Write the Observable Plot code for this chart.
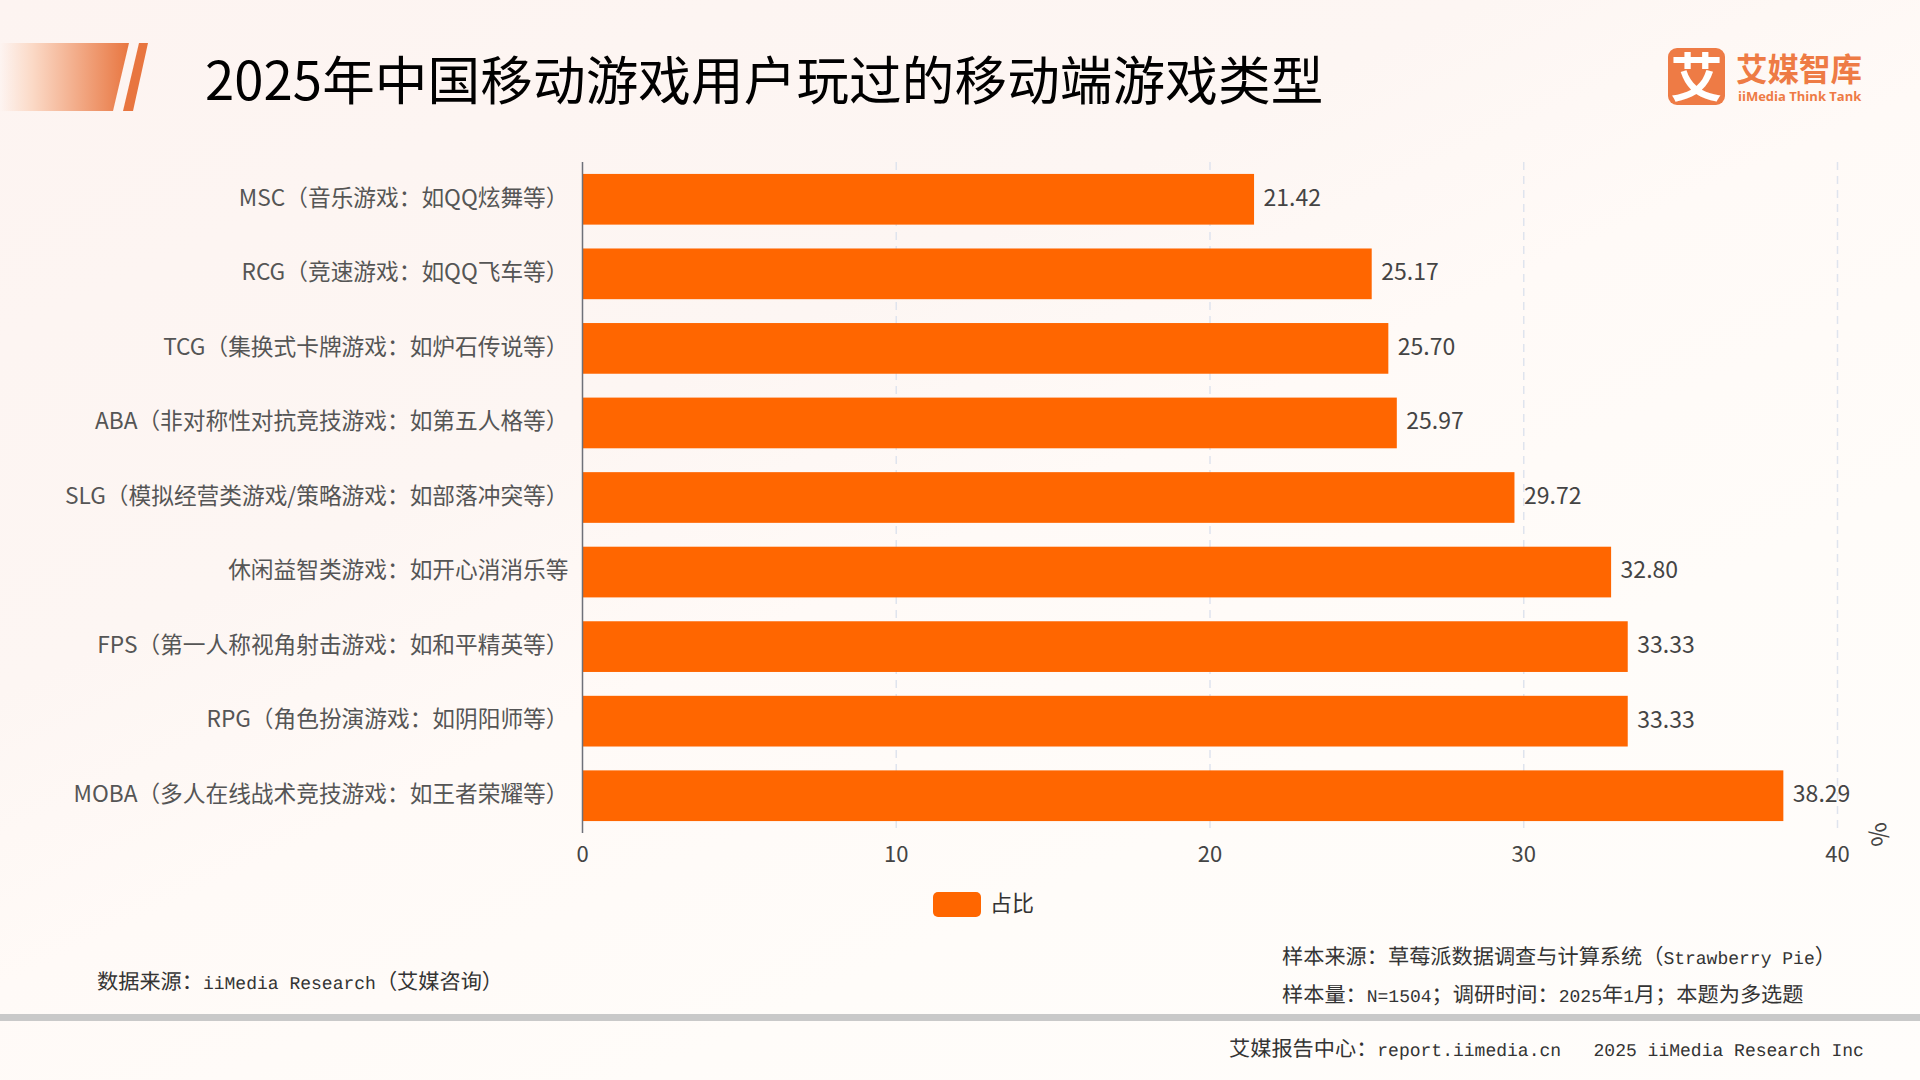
<!DOCTYPE html>
<html lang="zh-CN">
<head>
<meta charset="utf-8">
<title>2025年中国移动游戏用户玩过的移动端游戏类型</title>
<script src="https://cdn.jsdelivr.net/npm/d3@7"></script>
<script src="https://cdn.jsdelivr.net/npm/@observablehq/plot@0.6"></script>
<style>
@font-face { font-family: "HalfMono"; src: local("Liberation Mono"); size-adjust: 85%; unicode-range: U+20-7E; }
html, body { margin: 0; padding: 0; }
#page { position: relative; width: 1920px; height: 1080px; overflow: hidden;
  font-family: "Noto Sans CJK SC", "Noto Sans", sans-serif;
  background: linear-gradient(155deg, #fdf4f1 0%, #fdf6f3 35%, #fffaf7 50%, #fffcf9 70%, #fffdfb 100%); }
#page > * { position: absolute; }
.title { left: 205px; top: 39px; font-size: 52.6px; line-height: 76px; color: #000; white-space: nowrap; font-weight: 400; letter-spacing: .1px; }
.note { font-family: "HalfMono", "Noto Sans CJK SC", sans-serif; font-size: 21.2px; line-height: 30px; color: #333; white-space: pre; text-rendering: geometricPrecision; }
.band1 { left: 0; top: 43px; width: 130px; height: 68px; clip-path: polygon(0 0, 129px 0, 113px 100%, 0 100%);
  background: linear-gradient(90deg, rgba(232,117,63,0) 0%, #fbd9c6 25%, #e8753f 100%); }
.band2 { left: 120px; top: 43px; width: 30px; height: 68px; background: #e8753f; clip-path: polygon(19px 0, 28px 0, 13px 100%, 3px 100%); }
.logo { left: 1668px; top: 48px; width: 57px; height: 57px; border-radius: 9px; background: #ee7b45; color: #fff; font-size: 52px; line-height: 54px; font-weight: 700; text-align: center; }
.logo1 { left: 1736px; top: 46px; font-size: 31.5px; line-height: 42px; font-weight: 700; color: #ee7b45; white-space: nowrap; }
.logo2 { left: 1738px; top: 87px; font-family: "Open Sans", sans-serif; font-size: 13px; line-height: 18px; font-weight: 700; color: #ee7b45; white-space: nowrap; }
.rule { left: 0; top: 1014px; width: 1920px; height: 7px; background: #c9c9c9; }
.swatch { left: 933px; top: 892px; width: 48px; height: 25px; border-radius: 5px; background: #ff6600; }
.legend { left: 990px; top: 885px; font-size: 22px; line-height: 32px; color: #333; }
.pct { left: 1869px; top: 818px; font-size: 25px; line-height: 32px; color: #444; transform: rotate(75deg); }
</style>
</head>
<body>
<div id="page">
  <div class="band1"></div><div class="band2"></div>
  <div class="title">2025年中国移动游戏用户玩过的移动端游戏类型</div>
  <div class="logo">艾</div>
  <div class="logo1">艾媒智库</div>
  <div class="logo2">iiMedia Think Tank</div>
  <div class="swatch"></div><div class="legend">占比</div>
  <div class="pct">%</div>
  <div class="note" style="left:97px;top:970px">数据来源：iiMedia Research（艾媒咨询）</div>
  <div class="note" style="left:1282px;top:945px">样本来源：草莓派数据调查与计算系统（Strawberry Pie）</div>
  <div class="note" style="left:1282px;top:983px">样本量：N=1504；调研时间：2025年1月；本题为多选题</div>
  <div class="rule"></div>
  <div class="note" style="left:1229px;top:1037px">艾媒报告中心：report.iimedia.cn   2025 iiMedia Research Inc</div>
</div>
<script>
const categories = [
  "MSC（音乐游戏：如QQ炫舞等）",
  "RCG（竞速游戏：如QQ飞车等）",
  "TCG（集换式卡牌游戏：如炉石传说等）",
  "ABA（非对称性对抗竞技游戏：如第五人格等）",
  "SLG（模拟经营类游戏/策略游戏：如部落冲突等）",
  "休闲益智类游戏：如开心消消乐等",
  "FPS（第一人称视角射击游戏：如和平精英等）",
  "RPG（角色扮演游戏：如阴阳师等）",
  "MOBA（多人在线战术竞技游戏：如王者荣耀等）"
];
const values = [21.42, 25.17, 25.70, 25.97, 29.72, 32.80, 33.33, 33.33, 38.29];
const xTicks = [0, 10, 20, 30, 40];
const rows = categories.map((name, i) => ({name, value: values[i]}));

const chart = Plot.plot({
  width: 1920,
  height: 750,
  marginLeft: 582,
  marginRight: 83,
  marginTop: 32,
  marginBottom: 47,
  style: {fontFamily: '"Noto Sans CJK SC", "Noto Sans", sans-serif', fontSize: "22px", background: "transparent", overflow: "visible"},
  x: {domain: [0, 40]},
  y: {domain: categories, paddingInner: 0.32, paddingOuter: 0.16, round: false},
  marks: [
    Plot.ruleX(xTicks.slice(1), {stroke: "#dfe4ee", strokeWidth: 1.5, strokeDasharray: "8,6"}),
    Plot.barX(rows, {y: "name", x: "value", fill: "#ff6600"}),
    Plot.ruleX([0], {stroke: "#6e7079", strokeWidth: 1.5}),
    Plot.text(rows, {y: "name", x: "value", text: d => d.value.toFixed(2), textAnchor: "start", dx: 9, dy: -1.5, fill: "#444", fontSize: 23}),
    Plot.axisY({tickSize: 0, tickPadding: 14, fontSize: 22.7, color: "#555", label: null, lineWidth: Infinity, textOverflow: null, dy: -1.5}),
    Plot.axisX({ticks: xTicks, tickSize: 0, tickPadding: 13, fontSize: 22, color: "#444", label: null})
  ]
});
chart.style.position = "absolute";
chart.style.left = "0";
chart.style.top = "130px";
chart.style.maxWidth = "none";
document.getElementById("page").appendChild(chart);
</script>
</body>
</html>
